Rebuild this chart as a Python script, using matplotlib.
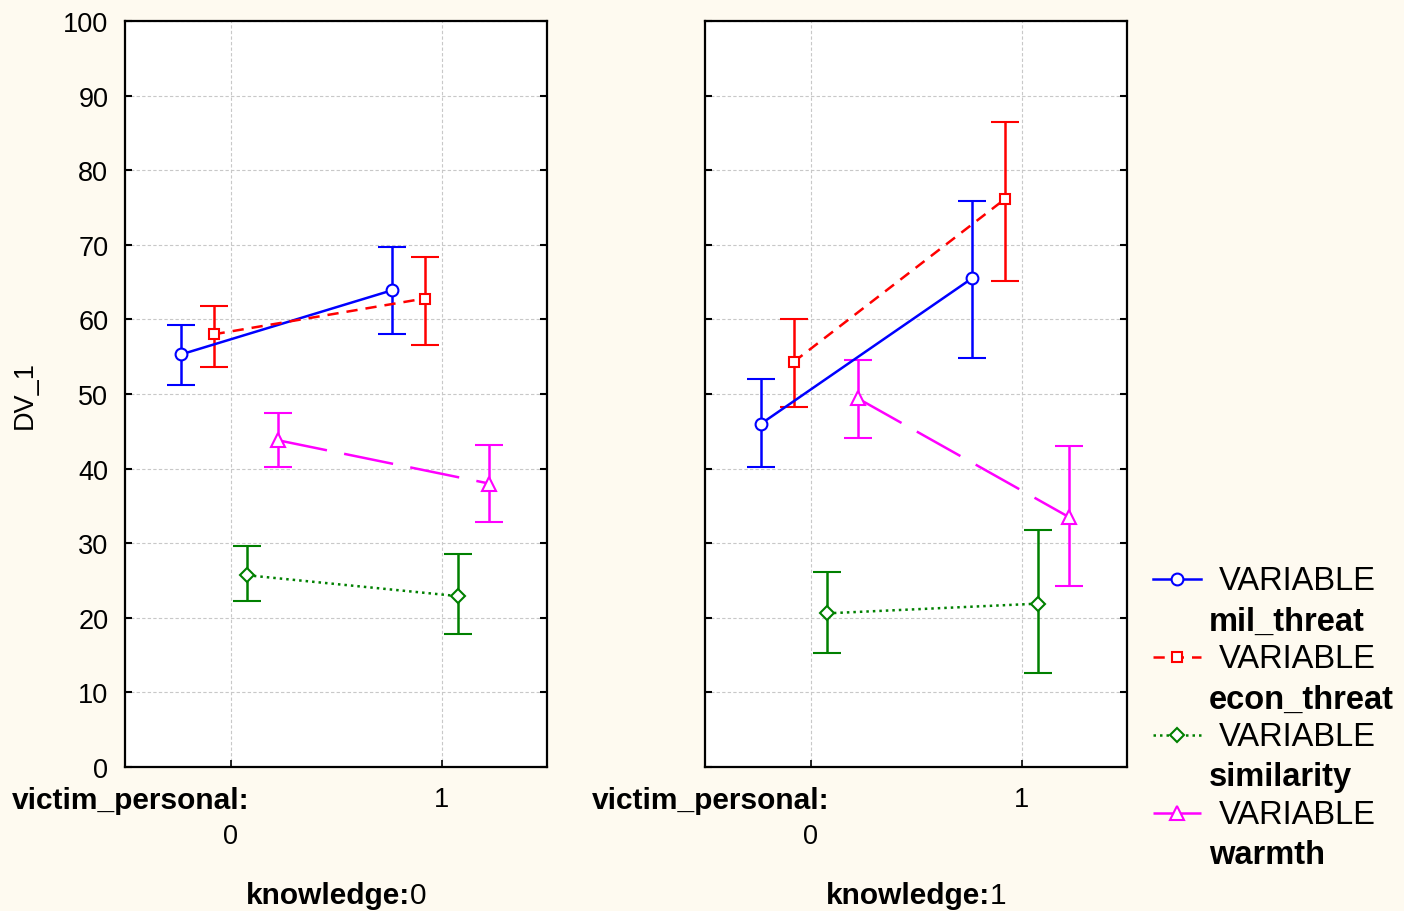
import numpy as np
import matplotlib
matplotlib.use("Agg")
import matplotlib.pyplot as plt
from matplotlib.lines import Line2D

plt.rcParams['font.family'] = ['Liberation Sans', 'DejaVu Sans']

# ---- data ----
victim_levels = [0, 1]
knowledge_levels = ["0", "1"]
variables = ["mil_threat", "econ_threat", "similarity", "warmth"]

# means per knowledge panel, per variable, at victim_personal = 0, 1
means_k0 = {
    "mil_threat": [55.3, 63.9],
    "econ_threat": [58.0, 62.8],
    "similarity": [25.7, 22.9],
    "warmth": [43.8, 38.0],
}
lower_k0 = {
    "mil_threat": [51.2, 58.0],
    "econ_threat": [53.6, 56.6],
    "similarity": [22.2, 17.8],
    "warmth": [40.2, 32.9],
}
upper_k0 = {
    "mil_threat": [59.3, 69.7],
    "econ_threat": [61.8, 68.4],
    "similarity": [29.6, 28.5],
    "warmth": [47.4, 43.2],
}
means_k1 = {
    "mil_threat": [46.0, 65.5],
    "econ_threat": [54.3, 76.1],
    "similarity": [20.6, 21.9],
    "warmth": [49.4, 33.5],
}
lower_k1 = {
    "mil_threat": [40.2, 54.8],
    "econ_threat": [48.3, 65.1],
    "similarity": [15.3, 12.6],
    "warmth": [44.1, 24.3],
}
upper_k1 = {
    "mil_threat": [52.0, 75.9],
    "econ_threat": [60.1, 86.5],
    "similarity": [26.1, 31.8],
    "warmth": [54.5, 43.0],
}

# ---- styles ----
styles = {
    "mil_threat": dict(color="#0000FF", marker="o", ls="-", offset=-0.235),
    "econ_threat": dict(color="#FF0000", marker="s", ls=(0, (4.5, 3.2)), offset=-0.08),
    "similarity": dict(color="#008000", marker="D", ls=(0, (1.0, 1.6)), offset=0.08),
    "warmth": dict(color="#FF00FF", marker="^", ls=(0, (20, 7)), offset=0.225),
}
msize = {"o": 8.5, "s": 7.5, "D": 7, "^": 9.5}

bg = "#FEFAF0"
fig = plt.figure(figsize=(14.04, 9.12), dpi=100, facecolor=bg)

W, H = 1404.0, 912.0
ax_left_px = [125, 705]
ax_w_px = 422
ax_top_px, ax_bot_px = 22, 768

panels = [(means_k0, lower_k0, upper_k0), (means_k1, lower_k1, upper_k1)]
axes = []
for i, (m, lo, hi) in enumerate(panels):
    ax = fig.add_axes([ax_left_px[i] / W, 1 - ax_bot_px / H,
                       ax_w_px / W, (ax_bot_px - ax_top_px) / H])
    ax.set_facecolor("white")
    for var in variables:
        st = styles[var]
        x = np.array(victim_levels) + st["offset"]
        y = np.array(m[var])
        yerr = [y - np.array(lo[var]), np.array(hi[var]) - y]
        ax.errorbar(x, y, yerr=yerr, color=st["color"], ls=st["ls"], lw=1.8,
                    marker=st["marker"], ms=msize[st["marker"]], mfc="white",
                    mec=st["color"], mew=1.5, capsize=10, capthick=1.8,
                    elinewidth=1.8, zorder=3)
    ax.set_xlim(-0.5, 1.5)
    ax.set_ylim(0, 100)
    ax.set_yticks(np.arange(0, 101, 10))
    ax.set_xticks(victim_levels)
    ax.set_xticklabels(["0", "1"], fontsize=19.5)
    ax.grid(True, color="#C8C8C8", ls=(0, (3, 2)), lw=0.8)
    ax.set_axisbelow(True)
    ax.tick_params(axis="y", direction="in", length=5, width=1.5, left=True,
                   right=True, labelsize=19.5, pad=12)
    ax.tick_params(axis="x", direction="in", length=5, width=1.2, pad=14)
    # the "0" level sits on a second line, under the factor name
    ax.xaxis.get_major_ticks()[0].set_pad(40)
    if i == 1:
        ax.tick_params(axis="y", labelleft=False)
    for sp in ax.spines.values():
        sp.set_linewidth(1.6)
    axes.append(ax)

axes[0].set_ylabel("DV_1", fontsize=19.5, labelpad=18)

# overlay in pixel coordinates for the text labels and legend
ov = fig.add_axes([0, 0, 1, 1], facecolor="none")
ov.set_xlim(0, W)
ov.set_ylim(H, 0)
ov.axis("off")

for i, lev in enumerate(knowledge_levels):
    x0 = ax_left_px[i]
    ov.text(x0 + 125, 801, "victim_personal:", fontsize=21.5, fontweight="bold",
            ha="right", va="center")
    ov.text(x0 + 285, 896, "knowledge:", fontsize=21.5, fontweight="bold",
            ha="right", va="center")
    ov.text(x0 + 285, 896, lev, fontsize=21.5, ha="left", va="center")

# manual legend
leg_y = [580, 658, 736, 814]
for var, yy in zip(variables, leg_y):
    st = styles[var]
    ov.add_line(Line2D([1153, 1201], [yy, yy], color=st["color"], ls=st["ls"],
                       lw=1.8))
    ov.add_line(Line2D([1177], [yy], color=st["color"], marker=st["marker"],
                       ms=msize[st["marker"]], mfc="white", mec=st["color"],
                       mew=1.5, ls="none"))
    ov.text(1219, yy + 2, "VARIABLE", fontsize=23.5, ha="left", va="center")
    ov.text(1209, yy + 42, var, fontsize=23.5, fontweight="bold", ha="left",
            va="center")

fig.savefig("out.png", dpi=100, facecolor=bg)
